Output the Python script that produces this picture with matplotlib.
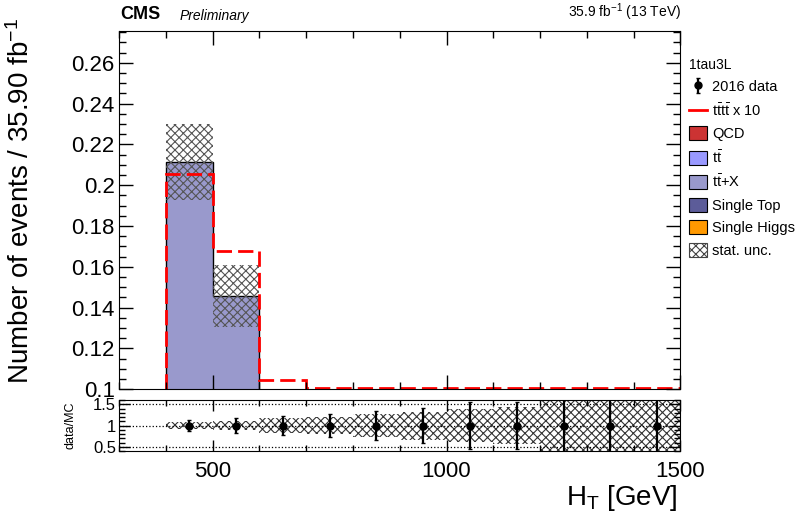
import numpy as np
import matplotlib.pyplot as plt
from matplotlib.patches import Patch
from matplotlib.lines import Line2D
from matplotlib.ticker import MultipleLocator, FormatStrFormatter

plt.rcParams['font.family'] = ['Liberation Sans', 'DejaVu Sans']
plt.rcParams['mathtext.fontset'] = 'custom'
plt.rcParams['mathtext.rm'] = 'Liberation Sans'
plt.rcParams['mathtext.it'] = 'Liberation Sans:italic'
plt.rcParams['hatch.linewidth'] = 0.8

# --- data ---
ht_edges = [400, 500, 600, 700, 800, 900, 1000, 1100, 1200, 1300, 1400, 1500]

# backgrounds, normalised to 35.90 fb^-1
qcd = [0.0, 0.0, 0.0, 0.0, 0.0, 0.0, 0.0, 0.0, 0.0, 0.0, 0.0]
ttbar = [0.006, 0.004, 0.002, 0.001, 0.0005, 0.0003, 0.0002, 0.0001, 0.0001, 0.0, 0.0]
single_higgs = [0.002, 0.0015, 0.0008, 0.0004, 0.0002, 0.0001, 0.0001, 0.0, 0.0, 0.0, 0.0]
single_top = [0.010, 0.007, 0.003, 0.0015, 0.0008, 0.0004, 0.0002, 0.0001, 0.0001, 0.0, 0.0]
ttx = [0.1934, 0.1331, 0.046, 0.021, 0.0097, 0.0052, 0.0027, 0.0015, 0.0007, 0.0004, 0.0002]
stat_unc = [0.0185, 0.0152, 0.008, 0.0045, 0.0026, 0.0017, 0.0011, 0.0007, 0.0006, 0.0004, 0.0003]

tttt_x10 = [0.2057, 0.1675, 0.1043, 0.062, 0.035, 0.019, 0.010, 0.006, 0.0035, 0.002, 0.001]

# ratio panel
ratio = [1, 1, 1, 1, 1, 1, 1, 1, 1, 1, 1]
ratio_err = [0.13, 0.17, 0.23, 0.28, 0.35, 0.42, 0.56, 0.56, 1.0, 1.0, 1.0]
ratio_band = [0.085, 0.105, 0.17, 0.21, 0.27, 0.33, 0.38, 0.44, 0.9, 0.9, 0.9]

edges = np.array(ht_edges)
centers = 0.5 * (edges[:-1] + edges[1:])
widths = np.diff(edges)
ymin, ymax = 0.1, 0.2757

fig = plt.figure(figsize=(7.97, 5.12), dpi=100)
ax = fig.add_axes([0.1493, 0.240, 0.7045, 0.700])
rax = fig.add_axes([0.1493, 0.119, 0.7045, 0.0996])

# stacked backgrounds
layers = [(qcd, '#cc3333'), (ttbar, '#9999ff'), (single_higgs, '#ff9900'),
          (single_top, '#5c5c99'), (ttx, '#9999cc')]
base = np.zeros(len(centers))
for vals, col in layers:
    top = base + np.array(vals)
    ax.stairs(top, edges, baseline=base, fill=True, color=col, lw=0)
    base = top
total = base
ax.stairs(total, edges, baseline=0, color='black', lw=1.0)

# stat. uncertainty band
unc = np.array(stat_unc)
ax.bar(centers, 2 * unc, bottom=total - unc, width=widths, fill=False,
       hatch='xxxx', edgecolor='#555555', lw=0)

# signal x10
ax.stairs(np.maximum(tttt_x10, ymin + 0.0004), edges, baseline=ymin,
          color='red', lw=2, ls=(0, (5.5, 2.2)))

ax.set_xlim(300, 1500)
ax.set_ylim(ymin, ymax)
ax.xaxis.set_major_locator(MultipleLocator(500))
ax.xaxis.set_minor_locator(MultipleLocator(100))
ax.yaxis.set_major_locator(MultipleLocator(0.02))
ax.yaxis.set_minor_locator(MultipleLocator(0.005))
ax.yaxis.set_major_formatter(FormatStrFormatter('%g'))
ax.tick_params(axis='both', which='both', direction='in', top=True, right=True)
ax.tick_params(which='major', length=10, width=1)
ax.tick_params(which='minor', length=5, width=1)
ax.tick_params(axis='y', labelsize=16, pad=3)
ax.tick_params(axis='x', labelbottom=False)
fig.text(21 / 797, 1 - 201 / 512, 'Number of events / 35.90 fb$^{-1}$',
         fontsize=20, rotation=90, ha='center', va='center')

# ratio panel
band = np.array(ratio_band)
rax.bar(centers, 2 * band, bottom=1 - band, width=widths, fill=False,
        hatch='xxxx', edgecolor='#333333', lw=0)
for yv in [0.5, 1.0, 1.5]:
    rax.axhline(yv, color='black', ls=':', lw=0.9)
data_h = rax.errorbar(centers, ratio, yerr=ratio_err, fmt='o', color='black',
                      ms=5, lw=1.6, capsize=1.5)
rax.set_xlim(300, 1500)
rax.set_ylim(0.4, 1.6)
rax.xaxis.set_major_locator(MultipleLocator(500))
rax.xaxis.set_minor_locator(MultipleLocator(100))
rax.yaxis.set_major_locator(MultipleLocator(0.5))
rax.yaxis.set_minor_locator(MultipleLocator(0.1))
rax.yaxis.set_major_formatter(FormatStrFormatter('%g'))
rax.tick_params(axis='both', which='both', direction='in', top=True, right=True)
rax.tick_params(which='major', length=8, width=1)
rax.tick_params(which='minor', length=4, width=1)
rax.tick_params(axis='y', labelsize=12, pad=2)
rax.tick_params(axis='x', labelsize=16, pad=7)
rax.set_ylabel('data/MC', fontsize=9)
rax.yaxis.set_label_coords(-0.075, 0.5)
fig.text(678 / 797, 1 - 505 / 512, r'H$_{\mathrm{T}}$ [GeV]', fontsize=20,
         ha='right', va='baseline')

# header
fig.text(0.151, 0.955, 'CMS', fontsize=13, fontweight='bold', va='bottom')
fig.text(0.225, 0.955, 'Preliminary', fontsize=10, style='italic', va='bottom')
fig.text(0.854, 0.955, '35.9 fb$^{-1}$ (13 TeV)', fontsize=10, ha='right', va='bottom')

# legend
handles = [data_h,
           Line2D([], [], color='red', lw=2),
           Patch(facecolor='#cc3333', edgecolor='black', lw=0.8),
           Patch(facecolor='#9999ff', edgecolor='black', lw=0.8),
           Patch(facecolor='#9999cc', edgecolor='black', lw=0.8),
           Patch(facecolor='#5c5c99', edgecolor='black', lw=0.8),
           Patch(facecolor='#ff9900', edgecolor='black', lw=0.8),
           Patch(facecolor='white', edgecolor='#444444', hatch='xxxx', lw=0.8)]
labels = ['2016 data', r'$\mathrm{t\bar{t}t\bar{t}}$ x 10', 'QCD',
          r'$\mathrm{t\bar{t}}$', r'$\mathrm{t\bar{t}}$+X', 'Single Top',
          'Single Higgs', 'stat. unc.']
leg = fig.legend(handles, labels, loc='upper left', bbox_to_anchor=(0.864, 0.887),
                 frameon=False, fontsize=10.5, title='1tau3L', title_fontsize=10,
                 alignment='left', handlelength=1.25, handleheight=1.1,
                 handletextpad=0.35, labelspacing=0.52, borderaxespad=0,
                 borderpad=0)

fig.savefig('out.png', dpi=100)
